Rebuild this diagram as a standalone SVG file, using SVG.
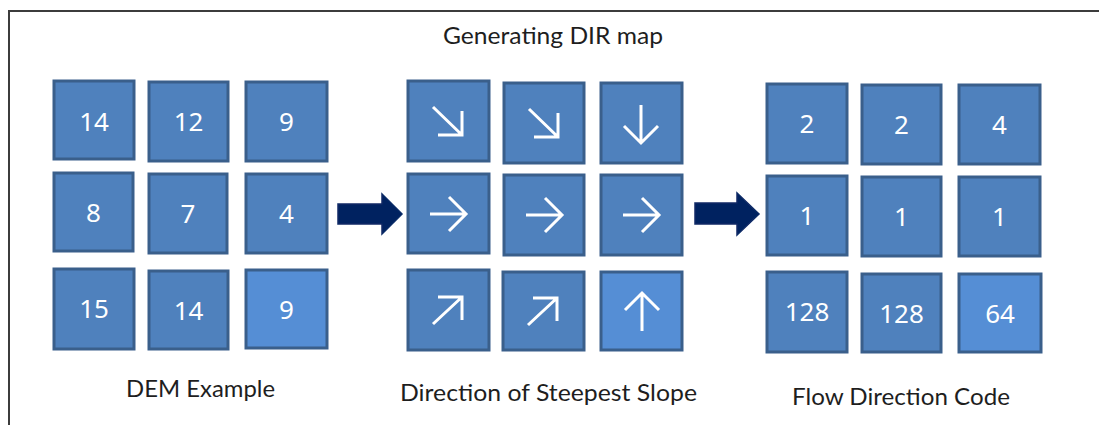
<svg xmlns="http://www.w3.org/2000/svg" width="1099" height="425" viewBox="0 0 1099 425">
  <style>
    .cell { fill: #4F81BD; stroke: #3A5F8B; stroke-width: 3; }
    .cell.light { fill: #558ED5; }
    .num { fill: #FFFFFF; font-family: "Noto Sans", "Liberation Sans", sans-serif; font-size: 26px; text-anchor: middle; }
    .dir { fill: none; stroke: #FFFFFF; stroke-width: 3; stroke-linecap: butt; stroke-linejoin: miter; }
    .label { fill: #1E1E1E; font-family: Lato, "Liberation Sans", sans-serif; font-size: 24px; }
    .bigarrow { fill: #002060; stroke: #0A2A66; stroke-width: 1.5; stroke-linejoin: miter; }
  </style>
  <defs>
    <filter id="soft" x="-20%" y="-20%" width="140%" height="140%">
      <feGaussianBlur stdDeviation="0.6"/>
    </filter>
  </defs>

  <rect x="0" y="0" width="1099" height="425" fill="#FFFFFF"/>
  <!-- outer frame, running past the right and bottom edges -->
  <rect x="9" y="11" width="1200" height="500" fill="none" stroke="#3C3C3C" stroke-width="2"/>

  <text id="title" class="label" x="443" y="44" textLength="220" lengthAdjust="spacingAndGlyphs">Generating DIR map</text>

  <!-- DEM grid -->
  <g id="dem">
    <g id="dem-r1c1"><rect class="cell" x="54" y="81" width="80" height="78"/><text class="num" x="94" y="131">14</text></g>
    <g id="dem-r1c2"><rect class="cell" x="149" y="82" width="79" height="79"/><text class="num" x="188.5" y="131">12</text></g>
    <g id="dem-r1c3"><rect class="cell" x="246" y="82" width="81" height="79"/><text class="num" x="286.5" y="131">9</text></g>
    <g id="dem-r2c1"><rect class="cell" x="54" y="173" width="79" height="78"/><text class="num" x="93.5" y="222">8</text></g>
    <g id="dem-r2c2"><rect class="cell" x="149" y="174" width="78" height="79"/><text class="num" x="188" y="223">7</text></g>
    <g id="dem-r2c3"><rect class="cell" x="246" y="174" width="81" height="79"/><text class="num" x="286.5" y="223">4</text></g>
    <g id="dem-r3c1"><rect class="cell" x="54" y="269" width="80" height="80"/><text class="num" x="94" y="318">15</text></g>
    <g id="dem-r3c2"><rect class="cell" x="149" y="271" width="79" height="78"/><text class="num" x="188.5" y="320">14</text></g>
    <g id="dem-r3c3"><rect class="cell light" x="246" y="270" width="81" height="78"/><text class="num" x="286.5" y="319">9</text></g>
  </g>
  <text id="dem-label" class="label" x="126" y="397" textLength="149" lengthAdjust="spacingAndGlyphs">DEM Example</text>

  <!-- steepest-slope direction grid -->
  <g id="slope">
    <g id="slope-r1c1"><rect class="cell" x="408" y="81" width="81" height="80"/>
      <path class="dir" d="M433 107 L462 135 M438 135 H462 V111"/></g>
    <g id="slope-r1c2"><rect class="cell" x="504" y="83" width="80" height="80"/>
      <path class="dir" d="M529 109 L558 137 M534 137 H558 V113"/></g>
    <g id="slope-r1c3"><rect class="cell" x="601" y="83" width="81" height="80"/>
      <path class="dir" d="M641 105 V143 M624 126 L641 143 L658 126"/></g>
    <g id="slope-r2c1"><rect class="cell" x="408" y="174" width="81" height="79"/>
      <path class="dir" d="M430 214 H466 M449 197 L466 214 L449 231"/></g>
    <g id="slope-r2c2"><rect class="cell" x="504" y="175" width="80" height="80"/>
      <path class="dir" d="M526 215 H562 M545 198 L562 215 L545 232"/></g>
    <g id="slope-r2c3"><rect class="cell" x="601" y="175" width="81" height="80"/>
      <path class="dir" d="M623 215 H659 M642 198 L659 215 L642 232"/></g>
    <g id="slope-r3c1"><rect class="cell" x="408" y="270" width="81" height="80"/>
      <path class="dir" d="M433 324 L462 297 M438 297 H462 V320"/></g>
    <g id="slope-r3c2"><rect class="cell" x="503" y="272" width="81" height="78"/>
      <path class="dir" d="M528 325 L557 298 M533 298 H557 V321"/></g>
    <g id="slope-r3c3"><rect class="cell light" x="601" y="272" width="81" height="78"/>
      <path class="dir" d="M642 293 V331 M625 310 L642 293 L659 310"/></g>
  </g>
  <text id="slope-label" class="label" x="400" y="401" textLength="297" lengthAdjust="spacingAndGlyphs">Direction of Steepest Slope</text>

  <!-- flow direction code grid -->
  <g id="code">
    <g id="code-r1c1"><rect class="cell" x="767" y="84" width="80" height="79"/><text class="num" x="807" y="133">2</text></g>
    <g id="code-r1c2"><rect class="cell" x="862" y="85" width="79" height="79"/><text class="num" x="901.5" y="134">2</text></g>
    <g id="code-r1c3"><rect class="cell" x="959" y="85" width="81" height="79"/><text class="num" x="999.5" y="134">4</text></g>
    <g id="code-r2c1"><rect class="cell" x="767" y="176" width="80" height="79"/><text class="num" x="807" y="225">1</text></g>
    <g id="code-r2c2"><rect class="cell" x="862" y="177" width="79" height="79"/><text class="num" x="901.5" y="226">1</text></g>
    <g id="code-r2c3"><rect class="cell" x="959" y="177" width="81" height="79"/><text class="num" x="999.5" y="226">1</text></g>
    <g id="code-r3c1"><rect class="cell" x="767" y="272" width="80" height="80"/><text class="num" x="807" y="321">128</text></g>
    <g id="code-r3c2"><rect class="cell" x="862" y="274" width="79" height="78"/><text class="num" x="901.5" y="323">128</text></g>
    <g id="code-r3c3"><rect class="cell light" x="959" y="274" width="82" height="78"/><text class="num" x="1000" y="323">64</text></g>
  </g>
  <text id="code-label" class="label" x="792" y="405" textLength="218" lengthAdjust="spacingAndGlyphs">Flow Direction Code</text>

  <!-- block arrows between the grids -->
  <g id="connectors" filter="url(#soft)">
    <path class="bigarrow" d="M338 204 H382 V194 L402 214 L382 234 V224 H338 Z"/>
    <path class="bigarrow" d="M695 203 H737 V193 L759 214 L737 235 V224 H695 Z"/>
  </g>
</svg>
